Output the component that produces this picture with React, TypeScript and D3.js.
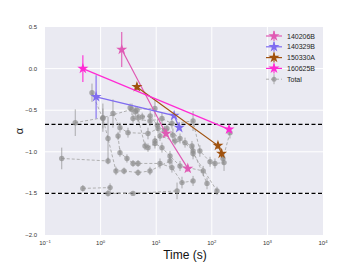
import React from "react";
import * as d3 from "d3";

// Colored GRBs: time (s), alpha, error
const grb140206B_t = [2.4, 15, 37];
const grb140206B_a = [0.23, -0.78, -1.2];
const grb140206B_e = [0.21, 0.04, 0.04];

const grb140329B_t = [0.83, 21, 26];
const grb140329B_a = [-0.34, -0.565, -0.71];
const grb140329B_e = [0.26, 0.03, 0.03];

const grb150330A_t = [4.5, 129, 150];
const grb150330A_a = [-0.22, -0.925, -1.02];
const grb150330A_e = [0.04, 0.04, 0.05];

const grb160625B_t = [0.48, 204];
const grb160625B_a = [0.0, -0.73];
const grb160625B_e = [0.16, 0.03];

// Gray "Total" tracks
const g1_t = [0.2, 1.36];
const g1_a = [-1.08, -1.11];
const g1_e = [0.13, 0.04];
const g2_t = [0.48, 1.48];
const g2_a = [-1.44, -1.43];
const g2_e = [0.04, 0.05];
const g3_t = [1.36, 3.83, 23.7];
const g3_a = [-1.5, -1.5, -1.47];
const g3_e = [0.04, 0.02, 0.1];
const g4_t = [0.35, 1.1, 3.67, 9.5];
const g4_a = [-0.65, -0.59, -0.49, -0.48];
const g4_e = [0.16, 0.17, 0.07, 0.1];
const g5_t = [0.7, 1.1, 1.36, 1.89, 2.64, 4.71, 7.73, 17.7];
const g5_a = [-0.29, -0.6, -0.84, -1.23, -1.23, -1.25, -1.23, -1.11];
const g5_e = [0.11, 0.12, 0.26, 0.05, 0.04, 0.04, 0.05, 0.06];
const g6_t = [1.67, 2.23, 3.11, 7.12, 10.8, 15.6, 26.8, 46, 82];
const g6_a = [-0.54, -0.71, -0.77, -0.78, -0.72, -0.72, -0.84, -0.99, -1.38];
const g6_e = [0.17, 0.06, 0.06, 0.07, 0.06, 0.05, 0.06, 0.07, 0.07];
const g7_t = [2.06, 2.23, 2.98, 3.83, 4.71, 11.7, 19.2, 29.1, 46];
const g7_a = [-0.81, -1.01, -1.08, -1.14, -1.14, -1.14, -1.19, -1.37, -1.35];
const g7_e = [0.05, 0.05, 0.05, 0.04, 0.04, 0.06, 0.06, 0.07, 0.06];
const g8_t = [4.52, 4.71, 6.29, 7.12, 9.5, 12.7, 17.7, 26.8, 70];
const g8_a = [-0.5, -0.59, -0.93, -0.95, -0.9, -0.95, -1.05, -1.17, -1.23];
const g8_e = [0.05, 0.05, 0.05, 0.05, 0.06, 0.06, 0.06, 0.06, 0.06];
const g9_t = [3.83, 7.73, 12.7, 19.2, 46, 61, 93, 114, 166];
const g9_a = [-0.6, -0.63, -0.6, -0.66, -0.63, -0.99, -1.12, -1.14, -1.13];
const g9_e = [0.05, 0.06, 0.07, 0.06, 0.12, 0.07, 0.06, 0.06, 0.1];
const g10_t = [9.5, 11.7, 21.8, 33, 44, 46, 124];
const g10_a = [-0.87, -0.81, -0.87, -0.89, -0.93, -1.02, -1.47];
const g10_e = [0.06, 0.06, 0.05, 0.06, 0.06, 0.07, 0.05];
const g11_t = [212, 159];
const g11_a = [-0.77, -1.08];
const g11_e = [0.07, 0.07];
const g12_t = [3.4, 4.2, 5.6, 7.8, 10.5, 14, 20];
const g12_a = [-0.47, -0.52, -0.58, -0.57, -0.68, -0.75, -0.8];
const g12_e = [0.05, 0.06, 0.05, 0.06, 0.07, 0.06, 0.08];

const colored = [
  { name: "140206B", t: grb140206B_t, a: grb140206B_a, e: grb140206B_e, color: "#E05AB4" },
  { name: "140329B", t: grb140329B_t, a: grb140329B_a, e: grb140329B_e, color: "#7F6CF0" },
  { name: "150330A", t: grb150330A_t, a: grb150330A_a, e: grb150330A_e, color: "#A0520F" },
  { name: "160625B", t: grb160625B_t, a: grb160625B_a, e: grb160625B_e, color: "#FF2AD4" },
];

const grayTracks = [
  [g1_t, g1_a, g1_e], [g2_t, g2_a, g2_e], [g3_t, g3_a, g3_e], [g4_t, g4_a, g4_e],
  [g5_t, g5_a, g5_e], [g6_t, g6_a, g6_e], [g7_t, g7_a, g7_e], [g8_t, g8_a, g8_e],
  [g9_t, g9_a, g9_e], [g10_t, g10_a, g10_e], [g11_t, g11_a, g11_e], [g12_t, g12_a, g12_e],
];

const xTickExp = [-1, 0, 1, 2, 3, 4];
const yTicks = [0.5, 0.0, -0.5, -1.0, -1.5, -2.0];
const hLines = [-0.67, -1.5];

const W = 360, H = 270;
const L = 45, R = 323, T = 27, B = 235;

export default function App() {
  const x = d3.scaleLog().domain([0.1, 10000]).range([L, R]);
  const y = d3.scaleLinear().domain([-2.0, 0.5]).range([B, T]);
  const star = d3.symbol().type(d3.symbolStar).size(38);
  const line = d3.line<[number, number]>().x((d) => x(d[0])).y((d) => y(d[1]));
  const font = "'Liberation Sans', Arial, sans-serif";
  const gray = "#8f8f8f";

  return (
    <svg width={W} height={H} style={{ position: "absolute", left: 0, top: 0, background: "#fff" }}>
      <rect x={L} y={T} width={R - L} height={B - T} fill="#EAEAF2" />
      {xTickExp.slice(1, -1).map((e) => (
        <line key={"gx" + e} x1={x(10 ** e)} x2={x(10 ** e)} y1={T} y2={B} stroke="#fff" strokeWidth={1} />
      ))}
      {yTicks.slice(1, -1).map((v) => (
        <line key={"gy" + v} x1={L} x2={R} y1={y(v)} y2={y(v)} stroke="#fff" strokeWidth={1} />
      ))}
      {hLines.map((v) => (
        <line key={"h" + v} x1={L} x2={R} y1={y(v)} y2={y(v)} stroke="#000" strokeWidth={1.1} strokeDasharray="4,2.5" />
      ))}
      {/* gray tracks */}
      <g>
        {grayTracks.map(([ts, as, es], i) => {
          const pts = ts.map((t, j) => [t, as[j]] as [number, number]);
          return (
            <g key={"gt" + i}>
              <path d={line(pts) || ""} fill="none" stroke="#a8a8a8" strokeWidth={0.9} strokeDasharray="3,2" />
              {ts.map((t, j) => (
                <line key={"ge" + j} x1={x(t)} x2={x(t)} y1={y(as[j] - es[j])} y2={y(as[j] + es[j])} stroke={gray} strokeOpacity={0.7} strokeWidth={1} />
              ))}
              {ts.map((t, j) => (
                <circle key={"gc" + j} cx={x(t)} cy={y(as[j])} r={2.7} fill={gray} fillOpacity={0.72} />
              ))}
            </g>
          );
        })}
      </g>
      {/* colored */}
      {colored.map((s) => {
        const pts = s.t.map((t, j) => [t, s.a[j]] as [number, number]);
        return (
          <g key={s.name}>
            <path d={line(pts) || ""} fill="none" stroke={s.color} strokeWidth={1.2} />
            {s.t.map((t, j) => (
              <line key={"e" + j} x1={x(t)} x2={x(t)} y1={y(s.a[j] - s.e[j])} y2={y(s.a[j] + s.e[j])} stroke={s.color} strokeWidth={1.1} />
            ))}
            {s.t.map((t, j) => (
              <path key={"s" + j} d={star() || ""} transform={`translate(${x(t)},${y(s.a[j])})`} fill={s.color} />
            ))}
          </g>
        );
      })}
      {/* axes ticks */}
      {xTickExp.map((e) => (
        <text key={"xt" + e} x={x(10 ** e)} y={245} fontFamily={font} fontSize={6} fill="#333" textAnchor="middle">
          10<tspan dy={-2.5} fontSize={4.2}>{e < 0 ? "\u2212" + -e : e}</tspan>
        </text>
      ))}
      {yTicks.map((v) => (
        <text key={"yt" + v} x={37} y={y(v) + 2} fontFamily={font} fontSize={6} fill="#333" textAnchor="end">
          {v.toFixed(1).replace("-", "\u2212")}
        </text>
      ))}
      <text x={185} y={259} fontFamily={font} fontSize={12} fill="#111" textAnchor="middle">Time (s)</text>
      <text transform="translate(23,131) rotate(-90)" fontFamily={font} fontSize={11} fill="#111" textAnchor="middle">α</text>
      {/* legend */}
      {colored.map((s, i) => {
        const ly = 36 + i * 10.8;
        return (
          <g key={"lg" + s.name}>
            <line x1={266} x2={282} y1={ly} y2={ly} stroke={s.color} strokeWidth={1.2} />
            <line x1={274} x2={274} y1={ly - 5} y2={ly + 5} stroke={s.color} strokeWidth={1.1} />
            <path d={star() || ""} transform={`translate(274,${ly})`} fill={s.color} />
            <text x={287} y={ly + 2.5} fontFamily={font} fontSize={7} fill="#222">{s.name}</text>
          </g>
        );
      })}
      <g>
        <line x1={266} x2={282} y1={79.2} y2={79.2} stroke="#a8a8a8" strokeWidth={0.9} strokeDasharray="3,2" />
        <line x1={274} x2={274} y1={74.2} y2={84.2} stroke={gray} strokeOpacity={0.7} strokeWidth={1} />
        <circle cx={274} cy={79.2} r={2.5} fill={gray} fillOpacity={0.72} />
        <text x={287} y={81.7} fontFamily={font} fontSize={7} fill="#222">Total</text>
      </g>
    </svg>
  );
}
